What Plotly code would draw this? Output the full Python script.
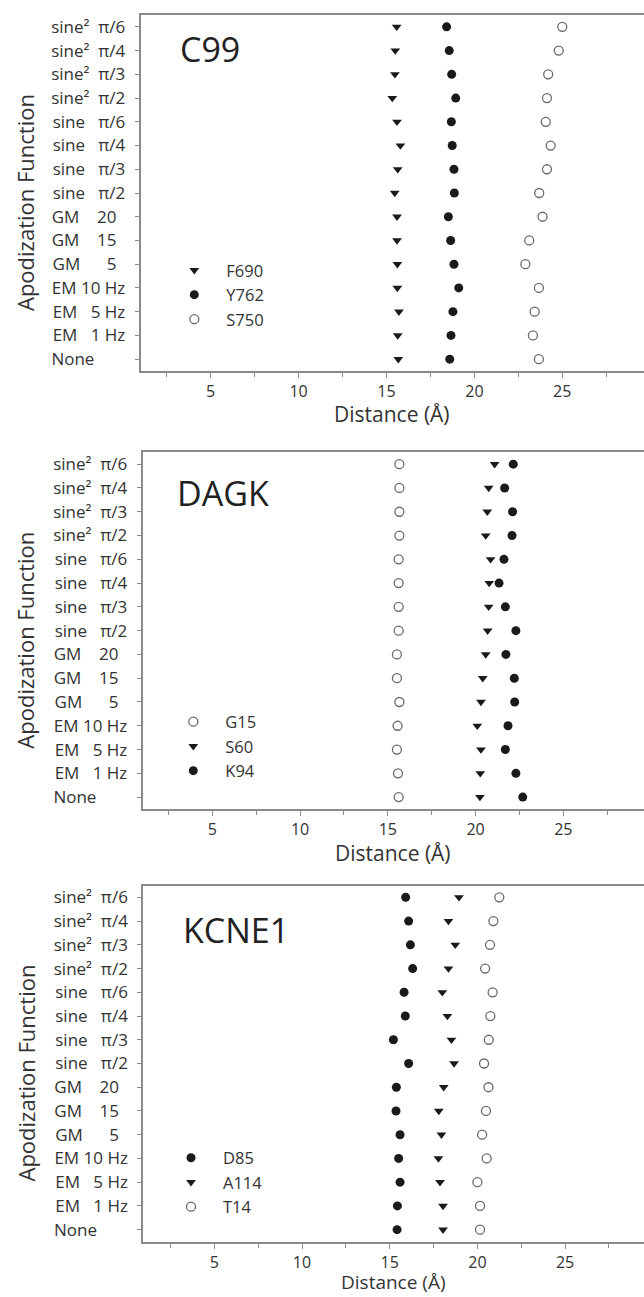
import plotly.graph_objects as go

# categories, top to bottom as printed on the figure
categories = ["sine² π/6", "sine² π/4", "sine² π/3", "sine² π/2",
              "sine π/6", "sine π/4", "sine π/3", "sine π/2",
              "GM 20", "GM 15", "GM 5",
              "EM 10 Hz", "EM 5 Hz", "EM 1 Hz", "None"]
NB = "\u00a0"
tick_labels = ["sine²" + NB * 2 + "π/6", "sine²" + NB * 2 + "π/4",
               "sine²" + NB * 2 + "π/3", "sine²" + NB * 2 + "π/2",
               "sine" + NB * 3 + "π/6", "sine" + NB * 3 + "π/4",
               "sine" + NB * 3 + "π/3", "sine" + NB * 3 + "π/2",
               "GM" + NB * 4 + "20" + NB * 2, "GM" + NB * 4 + "15" + NB * 2,
               "GM" + NB * 6 + "5" + NB * 2,
               "EM" + NB + "10" + NB + "Hz", "EM" + NB * 3 + "5" + NB + "Hz",
               "EM" + NB * 3 + "1" + NB + "Hz", "None" + NB * 7]

# C99
c99_F690 = [15.58, 15.50, 15.48, 15.33, 15.60, 15.79, 15.64, 15.47, 15.60, 15.60, 15.62, 15.62, 15.71, 15.64, 15.67]
c99_Y762 = [18.42, 18.57, 18.71, 18.94, 18.69, 18.74, 18.84, 18.86, 18.52, 18.65, 18.84, 19.11, 18.78, 18.67, 18.60]
c99_S750 = [25.00, 24.80, 24.20, 24.13, 24.06, 24.34, 24.13, 23.69, 23.88, 23.12, 22.90, 23.67, 23.43, 23.33, 23.67]

# DAGK
dagk_G15 = [15.66, 15.66, 15.66, 15.66, 15.62, 15.62, 15.62, 15.62, 15.52, 15.52, 15.66, 15.56, 15.52, 15.58, 15.62]
dagk_S60 = [21.09, 20.75, 20.67, 20.58, 20.86, 20.78, 20.75, 20.69, 20.58, 20.41, 20.31, 20.10, 20.31, 20.27, 20.25]
dagk_K94 = [22.15, 21.66, 22.11, 22.08, 21.62, 21.34, 21.70, 22.30, 21.73, 22.21, 22.23, 21.85, 21.70, 22.30, 22.69]

# KCNE1
kcne1_D85 = [15.91, 16.08, 16.18, 16.31, 15.82, 15.89, 15.21, 16.08, 15.38, 15.36, 15.59, 15.51, 15.59, 15.44, 15.42]
kcne1_A114 = [18.95, 18.35, 18.74, 18.35, 18.00, 18.29, 18.52, 18.67, 18.08, 17.80, 17.95, 17.78, 17.87, 18.04, 18.04]
kcne1_T14 = [21.25, 20.91, 20.72, 20.44, 20.87, 20.74, 20.65, 20.38, 20.63, 20.49, 20.27, 20.53, 20.00, 20.15, 20.15]

panel_names = ["C99", "DAGK", "KCNE1"]
x_ticks = [5, 10, 15, 20, 25]

W, H = 644, 1297
FONT = "Open Sans"
TXT = "#333333"
AX = "#8a8a8a"

# layout geometry in pixels (left, top, bottom of each plot box) and x range
boxes = [dict(left=140.7, top=15, bottom=371, xr=[1.018, 29.65]),
         dict(left=142.7, top=452.3, bottom=809, xr=[1.034, 29.6]),
         dict(left=143.3, top=885.5, bottom=1241.5, xr=[0.951, 29.5])]

tri = dict(symbol="triangle-down", size=8.5, color="#1a1a1a", line=dict(width=0))
dot = dict(symbol="circle", size=9, color="#1a1a1a", line=dict(width=0))
ring = dict(symbol="circle-open", size=9, color="#6a6a6a", line=dict(width=1.3, color="#6a6a6a"))

series = [
    [("F690", c99_F690, tri), ("Y762", c99_Y762, dot), ("S750", c99_S750, ring)],
    [("G15", dagk_G15, ring), ("S60", dagk_S60, tri), ("K94", dagk_K94, dot)],
    [("D85", kcne1_D85, dot), ("A114", kcne1_A114, tri), ("T14", kcne1_T14, ring)],
]

legend_pos = [(194.3, 267.0), (193.3, 718.5), (191.0, 1154.5)]
dist_y = [414, 853, None]
dist_size = [21, 21, 19]

fig = go.Figure()
layout = dict(width=W, height=H, margin=dict(l=0, r=0, t=0, b=0),
              paper_bgcolor="white", plot_bgcolor="white",
              font=dict(family=FONT, color=TXT, size=17), annotations=[])

for i, (b, ser) in enumerate(zip(boxes, series)):
    n = "" if i == 0 else str(i + 1)
    lg = "legend" if i == 0 else "legend" + str(i + 1)
    for name, vals, mk in ser:
        fig.add_trace(go.Scatter(x=vals, y=categories, mode="markers", name=name,
                                 marker=mk, xaxis="x" + n, yaxis="y" + n,
                                 legend=lg, hoverinfo="x+y+name"))
    ydom = [1 - b["bottom"] / H, 1 - b["top"] / H]
    layout["xaxis" + n] = dict(domain=[b["left"] / W, 1], range=b["xr"], anchor="y" + n,
                               tickvals=x_ticks, ticks="outside", ticklen=5, tickwidth=1,
                               tickcolor=AX, showline=True, linecolor=AX, linewidth=2,
                               mirror=True, showgrid=False, zeroline=False,
                               minor=dict(dtick=2.5, tick0=0, ticks="outside", ticklen=4,
                                          tickcolor=AX, tickwidth=1, showgrid=False),
                               tickfont=dict(size=16, color=TXT, family=FONT))
    layout["yaxis" + n] = dict(domain=ydom, anchor="x" + n, type="category",
                               categoryorder="array", categoryarray=categories,
                               range=[14.5, -0.5], tickvals=categories, ticktext=tick_labels,
                               ticks="outside", ticklen=4, tickwidth=1, tickcolor=AX,
                               showline=True, linecolor=AX, linewidth=2, mirror=False,
                               showgrid=False, zeroline=False, ticklabelstandoff=6,
                               tickfont=dict(size=17, color=TXT, family=FONT))
    sx, sy = legend_pos[i]
    layout[lg] = dict(x=(sx - 32) / W, xanchor="left", y=1 - (sy - 14) / H, yanchor="top",
                      itemwidth=54, bgcolor="rgba(0,0,0,0)", borderwidth=0,
                      font=dict(size=16.5, color=TXT, family=FONT), tracegroupgap=0)
    # panel name
    name_y = [49, 493, 930][i]
    name_x = [178, 174.7, 180.7][i]
    layout["annotations"].append(dict(text=panel_names[i], xref="paper", yref="paper",
                                      x=name_x / W, y=1 - name_y / H, xanchor="left",
                                      yanchor="middle", showarrow=False,
                                      font=dict(size=34, color="#222222", family=FONT)))
    # axis titles
    if dist_y[i] is None:
        dpos = dict(y=0, yanchor="bottom")
    else:
        dpos = dict(y=1 - dist_y[i] / H, yanchor="middle")
    layout["annotations"].append(dict(text="Distance (Å)", xref="paper", yref="paper",
                                      x=(b["left"] + W) / 2 / W, xanchor="center",
                                      showarrow=False,
                                      font=dict(size=dist_size[i], color=TXT, family=FONT),
                                      **dpos))
    layout["annotations"].append(dict(text="Apodization Function", xref="paper", yref="paper",
                                      x=25 / W, y=1 - ((b["top"] + b["bottom"]) / 2 + 10) / H,
                                      xanchor="center", yanchor="middle", textangle=-90,
                                      showarrow=False,
                                      font=dict(size=22, color=TXT, family=FONT)))

layout["showlegend"] = True
fig.update_layout(**layout)
fig.write_html("out.html", config={"displayModeBar": False},
               post_script="document.body.style.margin='0';document.body.style.overflow='hidden';")
